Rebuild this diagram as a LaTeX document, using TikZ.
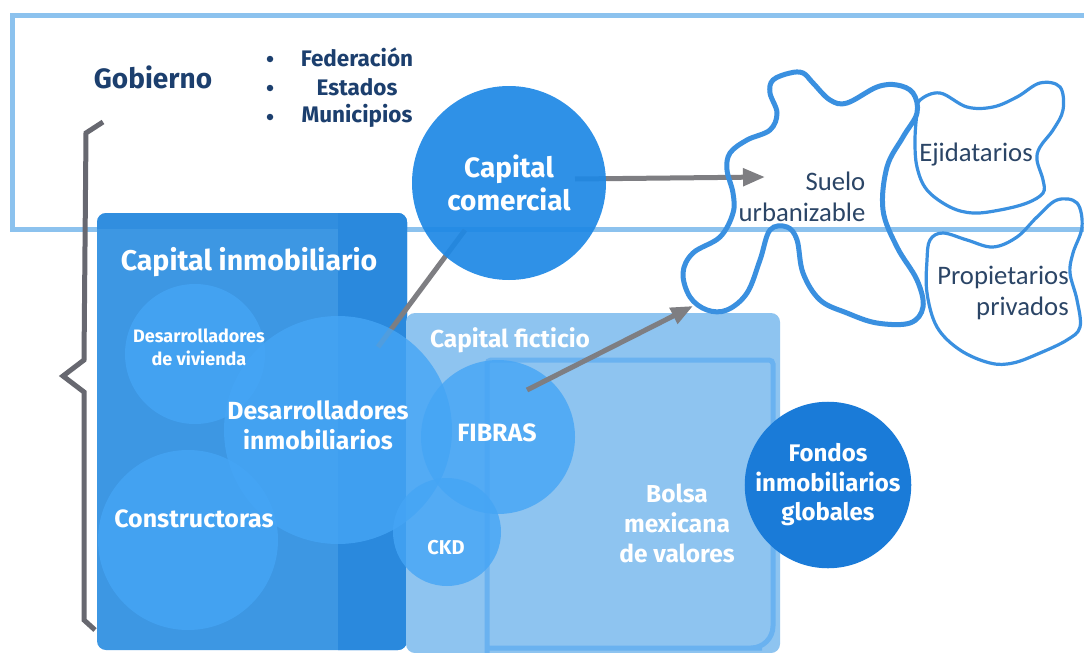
\documentclass[tikz,border=0pt]{standalone}
\usepackage{fontspec}
\setmainfont{Fira Sans}
\newfontfamily\calib{Carlito}
\usetikzlibrary{arrows.meta}
\definecolor{govline}{HTML}{8CC2EE}
\definecolor{navy}{HTML}{1C3F6E}
\definecolor{comercialc}{HTML}{1E88E5}
\definecolor{inmobc}{HTML}{3D97E3}
\definecolor{inmobdark}{HTML}{2A89DD}
\definecolor{ficticioc}{HTML}{8EC4F0}
\definecolor{bolsaline}{HTML}{6AB2F0}
\definecolor{circc}{HTML}{45A5F5}
\definecolor{fondosc}{HTML}{1A7BD8}
\definecolor{blobc}{HTML}{3A90E0}
\definecolor{arrowgray}{HTML}{7E7E82}
\definecolor{bracegray}{HTML}{676870}
\definecolor{blobtext}{HTML}{2B4566}
\newcommand{\fsz}[2]{\fontsize{#1}{#2}\selectfont}
\tikzset{
  bubble/.style={circle, fill=circc, fill opacity=0.8, text opacity=1, inner sep=0pt},
  wlabel/.style={text=white, font=\bfseries, align=center},
  arr/.style={draw=arrowgray, line width=5pt, -{Triangle[length=22pt,width=17pt]}},
  plainline/.style={draw=arrowgray, line width=5pt},
  blobline/.style={draw=blobc, line width=5pt},
  blobthin/.style={draw=blobc, line width=3.2pt},
  blobtxt/.style={text=blobtext, font=\calib\fsz{26.7}{31}},
  bulletdot/.style={circle, fill=navy, minimum size=6.5pt, inner sep=0pt},
  govtxt/.style={text=navy, font=\bfseries\fsz{22.5}{26}},
}
\begin{document}
\begin{tikzpicture}[x=1pt,y=-1pt]
\useasboundingbox (0,0) rectangle (1084,653);
\clip (0,0) rectangle (1084,653);
\fill[white] (0,0) rectangle (1084,653);

% Gobierno frame
\draw[govline, line width=5pt] (12,15) rectangle (1110,229);
\node[text=navy, font=\bfseries\fsz{28}{30}] (gob) at (153,77) {Gobierno};
\node[bulletdot] (b1) at (270,59) {};
\node[bulletdot] (b2) at (270,88) {};
\node[bulletdot] (b3) at (270,117) {};
\node[govtxt] (fed) at (357,57) {Federación};
\node[govtxt] (est) at (357,87) {Estados};
\node[govtxt] (mun) at (357,116) {Municipios};

% brace
\draw[bracegray, line width=5pt] (103,122) -- (86,133) -- (84,360) -- (63,376) -- (84,392) -- (84,620) -- (95,630);

% Capital inmobiliario
\fill[inmobc, rounded corners=9pt] (97,213) rectangle (407,650);
\begin{scope}
  \clip[rounded corners=9pt] (97,213) rectangle (407,650);
  \fill[inmobdark] (338,200) rectangle (420,660);
  \fill[inmobdark, opacity=0.6] (90,200) rectangle (420,229);
\end{scope}
\node[wlabel, font=\bfseries\fsz{28.5}{30}] (inmobt) at (249,262) {Capital inmobiliario};

% Capital ficticio
\fill[ficticioc, rounded corners=9pt] (406,313) rectangle (780,653);
\draw[bolsaline, line width=5pt, rounded corners=4pt] (487,660) -- (487,360) -- (773,360) -- (773,620) [rounded corners=22pt] -- (773,648) -- (740,648) -- (487,648);
\node[wlabel, font=\bfseries\fsz{24.5}{28}] (ficti) at (510,340) {Capital ficticio};

% connector des->comercial (under circles)
\coordinate (d1) at (378,347);
\coordinate (c1) at (465,230);
\draw[plainline] (d1) -- (c1);

% circles
\node[bubble, minimum size=140pt] (viv) at (195,354) {};
\node[bubble, minimum size=180pt] (cons) at (188,540) {};
\node[bubble, minimum size=228pt] (desa) at (338,430) {};
\node[bubble, minimum size=154pt] (fib) at (498,437) {};
\node[bubble, minimum size=108pt] (ckd) at (447,532) {};

\node[wlabel, font=\bfseries\fsz{18}{23}] at (199,347) {Desarrolladores\\de vivienda};
\node[wlabel, font=\bfseries\fsz{24.8}{30}] at (318,425) {Desarrolladores\\inmobiliarios};
\node[wlabel, font=\bfseries\fsz{25}{28}] at (194,519) {Constructoras};
\node[wlabel, font=\bfseries\fsz{25}{28}] at (497,433) {FIBRAS};
\node[wlabel, font=\bfseries\fsz{20}{24}] at (446,548) {CKD};
\node[wlabel, font=\bfseries\fsz{24.5}{30}] (bolsa) at (677,523) {Bolsa\\mexicana\\de valores};

% arrow comercial -> suelo (under circle)
\coordinate (c2) at (575,179);
\coordinate (s1) at (765,177);
\draw[arr] (c2) -- (s1);

% Capital comercial
\node[circle, fill=comercialc, fill opacity=0.92, minimum size=194pt, inner sep=0pt] (com) at (509,183) {};
\node[wlabel, font=\bfseries\fsz{28}{33}] at (509,183) {Capital\\comercial};

% Fondos
\node[circle, fill=fondosc, minimum size=161pt, inner sep=0pt, wlabel, font=\bfseries\fsz{24}{29.5}] (fondos) at (828,485) {Fondos\\inmobiliarios\\globales};

% blobs
\draw[blobline] plot[smooth cycle, tension=0.6] coordinates {
 (790,73) (803,73) (813,83) (830,100) (847,103) (877,87) (897,85) (913,93) (917,113)
 (903,137) (887,167) (883,210) (897,247) (917,280) (923,307) (910,323) (877,323)
 (847,313) (820,300) (803,273) (797,240) (787,227) (770,230) (760,260) (747,293)
 (727,310) (707,310) (690,297) (683,273) (693,253) (720,237) (733,213) (733,193)
 (727,170) (730,153) (747,140) (770,130) (777,113) (770,93) (773,80)};
\draw[blobthin] plot[smooth cycle, tension=0.6] coordinates {
 (920,100) (940,93) (967,107) (993,107) (1017,97) (1040,83) (1060,87) (1063,110)
 (1053,130) (1040,147) (1037,160) (1043,180) (1043,193) (1027,203) (1000,210)
 (973,213) (950,207) (927,190) (917,167) (915,140) (917,113)};
\draw[blobthin] plot[smooth cycle, tension=0.6] coordinates {
 (930,240) (943,233) (967,240) (993,247) (1017,237) (1037,217) (1057,200) (1077,203)
 (1082,227) (1073,253) (1070,273) (1077,300) (1080,327) (1067,340) (1040,353)
 (1013,363) (990,363) (960,350) (937,327) (927,293) (927,260)};
\node[blobtxt, align=right] (suelo) at (802,197) {Suelo\\urbanizable};
\node[blobtxt] (ejid) at (976,155) {Ejidatarios};
\node[blobtxt, align=right] (prop) at (1003,293) {Propietarios\\privados};

% arrow fibras -> suelo
\coordinate (f1) at (527,390);
\coordinate (s2) at (693,306);
\draw[arr] (f1) -- (s2);
\end{tikzpicture}
\end{document}
